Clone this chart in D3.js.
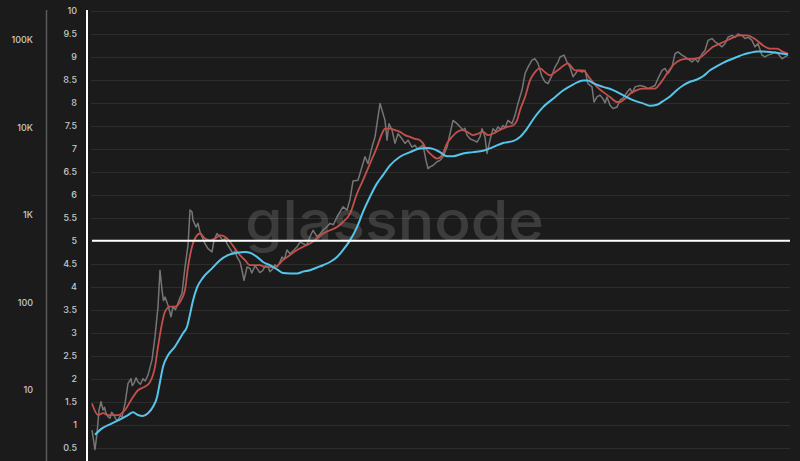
<!DOCTYPE html>
<html><head><meta charset="utf-8">
<script src="https://cdn.jsdelivr.net/npm/d3@7/dist/d3.min.js"></script>
<style>
html,body{margin:0;padding:0;background:#1b1b1b;}
svg{display:block;}
text{font-family:Inter, Roboto, "Noto Sans", sans-serif;}
</style></head>
<body>
<svg id="chart" width="800" height="461"></svg>
<script>
// ---- data (t = decimal year, v = right-axis value) ----
const rightTicks = [0.5,1,1.5,2,2.5,3,3.5,4,4.5,5,5.5,6,6.5,7,7.5,8,8.5,9,9.5,10];
const leftTicks = [10,100,1000,10000,100000];
const leftTickLabels = ["10","100","1K","10K","100K"];
const thresholdValue = 5;
const watermark = "glassnode";

const priceSeries = [
[2011.792,0.88],[2011.854,0.46],[2011.896,0.81],[2011.938,1.32],[2011.979,1.5],[2012.021,1.32],[2012.05,1.38],
[2012.083,1.25],[2012.12,1.18],[2012.167,1.14],[2012.2,1.27],[2012.25,1.21],[2012.29,1.12],[2012.333,1.1],
[2012.38,1.2],[2012.417,1.17],[2012.479,1.46],[2012.542,1.9],[2012.604,2.0],[2012.63,1.85],
[2012.667,1.9],[2012.71,2.02],[2012.75,1.93],[2012.8,1.88],[2012.854,2.0],[2012.9,1.95],[2012.958,2.08],[2013.042,2.41],
[2013.104,2.91],[2013.167,3.57],[2013.208,4.36],[2013.25,3.93],[2013.28,3.7],[2013.313,3.78],[2013.375,3.6],
[2013.438,3.35],[2013.479,3.57],[2013.53,3.5],[2013.583,3.64],[2013.62,3.75],
[2013.667,3.86],[2013.729,4.43],[2013.792,4.9],[2013.833,5.67],[2013.875,5.63],[2013.896,5.45],[2013.958,5.3],
[2014.0,5.38],[2014.04,5.2],[2014.083,5.09],[2014.146,4.94],[2014.208,4.83],[2014.292,4.76],[2014.333,5.01],[2014.396,5.16],
[2014.458,5.09],[2014.521,5.01],[2014.56,5.05],[2014.604,4.94],[2014.667,4.83],[2014.729,4.72],[2014.77,4.78],[2014.813,4.65],[2014.875,4.54],
[2014.917,4.36],[2014.958,4.14],[2015.021,4.43],[2015.083,4.4],[2015.12,4.3],[2015.146,4.36],[2015.19,4.46],[2015.229,4.4],
[2015.29,4.31],[2015.354,4.36],[2015.4,4.46],[2015.458,4.43],[2015.5,4.33],[2015.563,4.4],[2015.6,4.48],[2015.646,4.43],
[2015.7,4.52],[2015.75,4.65],[2015.8,4.6],[2015.854,4.8],[2015.917,4.72],[2016.0,4.8],[2016.063,4.87],[2016.13,4.98],
[2016.188,4.94],[2016.26,4.9],[2016.333,5.09],[2016.396,5.23],[2016.479,5.09],[2016.55,5.16],[2016.604,5.23],[2016.68,5.3],
[2016.75,5.38],[2016.82,5.35],[2016.896,5.52],[2016.95,5.62],
[2017.021,5.74],[2017.104,5.67],[2017.167,5.9],[2017.229,6.3],[2017.333,6.32],[2017.417,6.61],[2017.479,6.83],
[2017.542,6.68],[2017.625,7.04],[2017.688,7.26],[2017.729,7.55],[2017.792,7.99],[2017.854,7.77],[2017.896,7.62],
[2017.938,7.19],[2017.979,7.55],[2018.042,7.41],[2018.104,7.12],[2018.167,7.33],[2018.25,7.22],[2018.313,7.12],
[2018.375,7.19],[2018.458,7.04],[2018.521,7.08],[2018.57,7.0],[2018.625,7.04],[2018.688,7.08],[2018.75,6.75],[2018.792,6.57],
[2018.833,6.61],[2018.896,6.64],[2018.979,6.72],[2019.042,6.75],[2019.104,6.83],[2019.188,7.04],[2019.25,7.33],
[2019.313,7.62],[2019.396,7.55],[2019.458,7.48],[2019.521,7.41],[2019.56,7.45],[2019.604,7.3],[2019.667,7.22],[2019.729,7.19],
[2019.813,7.15],[2019.875,7.26],[2019.917,7.44],[2019.979,7.26],[2020.021,6.9],[2020.083,7.19],[2020.146,7.44],
[2020.2,7.38],[2020.25,7.48],[2020.3,7.42],[2020.354,7.51],[2020.4,7.47],[2020.458,7.62],[2020.542,7.55],[2020.604,7.73],[2020.667,7.99],[2020.75,8.28],
[2020.813,8.64],[2020.875,8.78],[2020.958,8.93],[2021.021,8.96],[2021.083,8.86],[2021.167,8.57],[2021.229,8.46],
[2021.292,8.42],[2021.375,8.6],[2021.438,8.78],[2021.5,8.89],[2021.542,9.0],[2021.625,9.04],[2021.688,8.89],
[2021.75,8.78],[2021.813,8.57],[2021.917,8.71],[2022.0,8.67],[2022.063,8.71],[2022.125,8.42],[2022.208,8.35],
[2022.25,8.02],[2022.313,8.13],[2022.375,8.17],[2022.438,8.09],[2022.48,8.0],[2022.521,8.13],[2022.583,7.95],[2022.646,7.88],
[2022.729,7.91],[2022.792,8.06],[2022.85,8.1],[2022.896,8.17],[2022.95,8.25],[2023.0,8.31],[2023.05,8.22],[2023.104,8.35],[2023.208,8.38],[2023.313,8.35],
[2023.375,8.31],[2023.458,8.35],[2023.521,8.38],[2023.583,8.53],[2023.667,8.71],[2023.729,8.75],[2023.792,8.64],
[2023.875,8.78],[2023.938,9.07],[2024.0,9.11],[2024.083,9.04],[2024.146,9.0],[2024.208,8.96],[2024.292,8.89],
[2024.354,8.96],[2024.417,8.89],[2024.5,9.07],[2024.563,9.14],[2024.625,9.36],[2024.708,9.4],[2024.771,9.33],
[2024.833,9.29],[2024.917,9.22],[2024.979,9.29],[2025.042,9.43],[2025.125,9.47],[2025.188,9.43],[2025.25,9.5],
[2025.333,9.47],[2025.396,9.4],[2025.458,9.43],[2025.542,9.36],[2025.604,9.22],[2025.667,9.29],[2025.75,9.04],
[2025.813,9.0],[2025.875,9.04],[2025.958,9.07],[2026.021,9.11],[2026.083,9.07],[2026.167,8.96],[2026.229,9.0],
[2026.292,9.04]
];

const shortMA = [
[2011.792,1.46],[2011.917,1.21],[2012.021,1.25],[2012.125,1.21],[2012.333,1.21],[2012.479,1.32],[2012.625,1.57],
[2012.75,1.75],[2012.896,1.83],[2013.0,1.93],[2013.104,2.26],[2013.167,2.7],[2013.25,3.2],[2013.313,3.46],
[2013.417,3.57],[2013.521,3.57],[2013.625,3.67],[2013.729,3.93],[2013.792,4.43],[2013.875,4.87],[2013.979,5.12],
[2014.042,5.16],[2014.146,5.05],[2014.25,5.01],[2014.354,5.05],[2014.458,5.12],[2014.563,5.09],[2014.667,4.98],
[2014.771,4.83],[2014.875,4.69],[2014.979,4.58],[2015.083,4.47],[2015.188,4.47],[2015.292,4.47],[2015.396,4.43],
[2015.5,4.43],[2015.604,4.43],[2015.667,4.47],[2015.771,4.58],[2015.917,4.69],[2016.063,4.8],[2016.188,4.87],
[2016.333,4.94],[2016.479,5.05],[2016.604,5.16],[2016.75,5.23],[2016.896,5.3],[2017.021,5.41],[2017.167,5.59],
[2017.313,6.03],[2017.438,6.32],[2017.583,6.68],[2017.729,7.04],[2017.833,7.33],[2017.896,7.44],[2018.0,7.44],
[2018.104,7.41],[2018.208,7.37],[2018.313,7.3],[2018.417,7.26],[2018.521,7.22],[2018.625,7.19],[2018.688,7.12],
[2018.771,6.97],[2018.875,6.86],[2018.979,6.79],[2019.083,6.86],[2019.188,7.12],[2019.292,7.26],[2019.396,7.37],
[2019.5,7.41],[2019.604,7.37],[2019.729,7.3],[2019.833,7.33],[2019.938,7.37],[2020.042,7.3],[2020.146,7.33],
[2020.292,7.41],[2020.438,7.48],[2020.563,7.51],[2020.646,7.62],[2020.708,7.84],[2020.813,8.13],[2020.917,8.49],
[2021.021,8.67],[2021.125,8.75],[2021.229,8.67],[2021.333,8.6],[2021.438,8.67],[2021.542,8.75],[2021.625,8.82],
[2021.708,8.86],[2021.854,8.71],[2022.021,8.71],[2022.167,8.53],[2022.313,8.35],[2022.438,8.24],[2022.583,8.13],
[2022.729,8.02],[2022.792,8.02],[2022.896,8.09],[2023.0,8.2],[2023.146,8.28],[2023.271,8.31],[2023.417,8.31],
[2023.521,8.31],[2023.625,8.42],[2023.771,8.64],[2023.896,8.82],[2024.042,8.93],[2024.188,8.96],[2024.313,8.96],
[2024.458,8.99],[2024.604,9.11],[2024.729,9.22],[2024.875,9.29],[2025.021,9.36],[2025.146,9.42],[2025.292,9.47],
[2025.438,9.47],[2025.542,9.43],[2025.646,9.36],[2025.771,9.25],[2025.917,9.18],[2026.063,9.18],[2026.188,9.11],
[2026.292,9.07]
];

const longMA = [
[2011.854,0.78],[2012.0,0.92],[2012.208,1.03],[2012.417,1.14],[2012.542,1.21],[2012.646,1.27],[2012.75,1.21],
[2012.854,1.19],[2012.958,1.25],[2013.063,1.39],[2013.146,1.6],[2013.208,1.93],[2013.271,2.26],[2013.375,2.51],
[2013.521,2.7],[2013.688,2.99],[2013.771,3.13],[2013.833,3.4],[2013.896,3.7],[2013.979,3.98],[2014.104,4.2],
[2014.292,4.4],[2014.458,4.58],[2014.625,4.69],[2014.813,4.74],[2014.979,4.76],[2015.083,4.74],[2015.229,4.65],
[2015.354,4.54],[2015.5,4.47],[2015.646,4.38],[2015.771,4.3],[2015.917,4.29],[2016.063,4.29],[2016.188,4.33],
[2016.333,4.36],[2016.479,4.42],[2016.604,4.47],[2016.75,4.54],[2016.896,4.65],[2017.021,4.8],[2017.167,5.01],
[2017.313,5.3],[2017.438,5.63],[2017.583,5.96],[2017.729,6.25],[2017.854,6.43],[2018.0,6.64],[2018.208,6.83],
[2018.417,6.93],[2018.625,7.01],[2018.792,7.02],[2018.896,7.0],[2019.042,6.93],[2019.188,6.84],[2019.313,6.84],
[2019.521,6.9],[2019.729,6.93],[2019.938,6.96],[2020.146,7.04],[2020.354,7.13],[2020.563,7.17],[2020.708,7.26],
[2020.854,7.44],[2021.021,7.7],[2021.188,7.91],[2021.396,8.09],[2021.604,8.27],[2021.813,8.4],[2022.021,8.49],
[2022.125,8.49],[2022.229,8.43],[2022.438,8.35],[2022.646,8.28],[2022.854,8.17],[2023.063,8.06],[2023.271,7.99],
[2023.417,7.94],[2023.563,7.96],[2023.688,8.04],[2023.833,8.14],[2023.979,8.28],[2024.104,8.38],[2024.25,8.46],
[2024.396,8.51],[2024.521,8.58],[2024.667,8.71],[2024.813,8.8],[2024.938,8.87],[2025.083,8.94],[2025.229,9.0],
[2025.354,9.05],[2025.5,9.09],[2025.646,9.12],[2025.771,9.12],[2025.917,9.11],[2026.063,9.09],[2026.188,9.07],
[2026.292,9.06]
];

// ---- drawing ----
const svg = d3.select("#chart");
const W = 800, H = 461;
svg.append("rect").attr("width",W).attr("height",H).attr("fill","#1b1b1b");

const x = d3.scaleLinear().domain([2011.75, 2026.3333]).range([90, 790]);
const y = d3.scaleLinear().domain([0.5, 10]).range([447.7, 11]);
const yPrice = d3.scaleLog().domain([10, 100000]).range([390, 40]);

// gridlines
svg.append("g").selectAll("line").data(rightTicks).join("line")
  .attr("x1", 91).attr("x2", 790)
  .attr("y1", d => Math.round(y(d))+0.5).attr("y2", d => Math.round(y(d))+0.5)
  .attr("stroke", "#2d2d2d").attr("stroke-width", 1);

// watermark
svg.append("text").text(watermark)
  .attr("x", 245).attr("y", 241)
  .attr("textLength", 299).attr("lengthAdjust","spacingAndGlyphs")
  .attr("font-size", 56).attr("font-weight", 500)
  .attr("fill", "#ffffff").attr("fill-opacity", 0.15)
  .style("font-family", "Inter, 'Open Sans', sans-serif");

// right (indicator) axis
const rightAxis = d3.axisLeft(y).tickValues(rightTicks).tickSize(0).tickPadding(0)
  .tickFormat(d => d3.format("")(d));
const ra = svg.append("g").attr("transform","translate(77,0)").call(rightAxis);
ra.select(".domain").remove();
ra.selectAll("text").attr("fill","#c8c8c8").attr("font-size",9).attr("font-weight",500)
  .style("font-family","Inter, Roboto, sans-serif");

// left (price) axis
const leftAxis = d3.axisLeft(yPrice).tickValues(leftTicks).tickSize(0).tickPadding(0)
  .tickFormat((d,i) => leftTickLabels[i]);
const la = svg.append("g").attr("transform","translate(33,0)").call(leftAxis);
la.select(".domain").remove();
la.selectAll("text").attr("fill","#c8c8c8").attr("font-size",9).attr("font-weight",500)
  .style("font-family","Inter, Roboto, sans-serif");

// separator lines
svg.append("line").attr("x1",46.5).attr("x2",46.5).attr("y1",10).attr("y2",H)
  .attr("stroke","#5a5a5a").attr("stroke-width",1.5);
svg.append("line").attr("x1",87).attr("x2",87).attr("y1",10).attr("y2",H)
  .attr("stroke","#ffffff").attr("stroke-width",2);

// series
const line = d3.line().x(d => x(d[0])).y(d => y(d[1])).curve(d3.curveMonotoneX);
svg.append("path").datum(priceSeries).attr("d", d3.line().x(d=>x(d[0])).y(d=>y(d[1])))
  .attr("fill","none").attr("stroke","#767676").attr("stroke-width",1.5).attr("stroke-linejoin","round");
svg.append("path").datum(shortMA).attr("d", line)
  .attr("fill","none").attr("stroke","#c4504b").attr("stroke-width",1.8);
svg.append("path").datum(longMA).attr("d", line)
  .attr("fill","none").attr("stroke","#55c6ea").attr("stroke-width",2);

// threshold line
svg.append("line").attr("x1",92).attr("x2",790)
  .attr("y1",y(thresholdValue)).attr("y2",y(thresholdValue))
  .attr("stroke","#ffffff").attr("stroke-width",2);
</script>
</body></html>
